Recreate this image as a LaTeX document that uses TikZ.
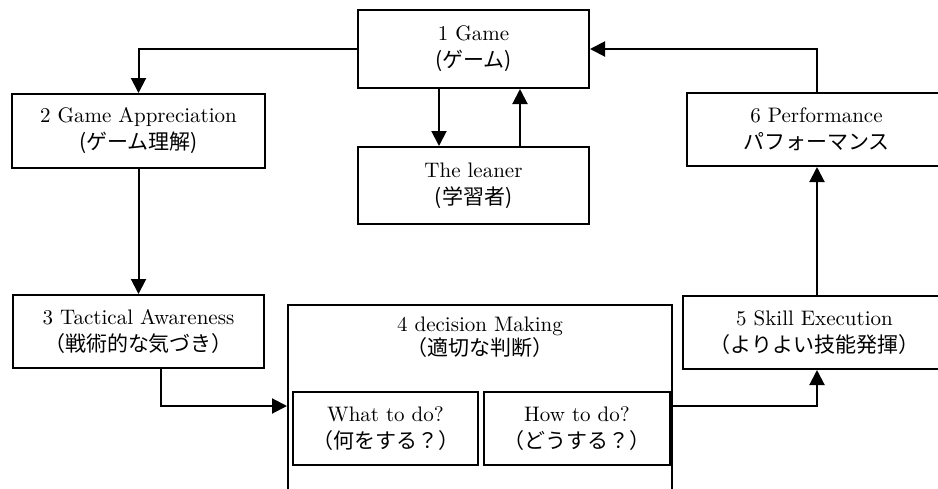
\documentclass[tikz,border=0pt]{standalone}
\usepackage{fontspec}
\newfontfamily\jp{Noto Sans CJK JP}
\usetikzlibrary{positioning,arrows.meta}

\tikzset{
  box/.style={draw, line width=1pt, align=center, inner sep=0pt,
    font=\fontsize{10.5pt}{13.5pt}\selectfont},
  flow/.style={line width=1pt, -{Triangle[length=7.5pt,width=7.5pt]}},
}

\begin{document}
\begin{tikzpicture}
  \useasboundingbox (0,0) rectangle (469pt,-244pt);
  \clip (0,0) rectangle (469pt,-244pt);
  % Define boxes
  \node[box, minimum width=115.5pt, minimum height=39pt] (game) at (236.75pt,-24.5pt) {1 Game\\{\jp (ゲーム)}};
  \node[box, minimum width=115.5pt, minimum height=38.5pt, below=28.5pt of game] (learner) {The leaner\\{\jp (学習者)}};
  \node[box, minimum width=126.5pt, minimum height=37pt] (appr) at (69.25pt,-65.5pt) {2 Game Appreciation\\{\jp (ゲーム理解)}};
  \node[box, minimum width=125.5pt, minimum height=36.5pt, below=62.5pt of appr] (tact) {3 Tactical Awareness\\{\jp （戦術的な気づき）}};
  \node[box, minimum width=192pt, minimum height=140pt, anchor=north west] (decision) at (143.5pt,-152pt) {};
  \node[align=center, inner sep=0pt, font=\fontsize{10.5pt}{10pt}\selectfont] (decisiontxt) at ([yshift=-16.75pt]decision.north) {4 decision Making\\{\jp （適切な判断）}};
  \node[box, minimum width=92.5pt, minimum height=36.5pt, anchor=north west] (what) at (146pt,-195.5pt) {What to do?\\{\jp （何をする？）}};
  \node[box, minimum width=93pt, minimum height=36.5pt, right=2pt of what] (how) {How to do?\\{\jp （どうする？）}};
  \node[box, minimum width=131.5pt, minimum height=36.5pt, anchor=north west] (skill) at (341pt,-147.5pt) {5 Skill Execution\\{\jp （よりよい技能発揮）}};
  \node[box, minimum width=129.5pt, minimum height=36.5pt, anchor=north west] (perf) at (343pt,-46pt) {6 Performance\\{\jp パフォーマンス}};
  \coordinate (dmrow) at ([yshift=-7.5pt]what.north);
  % game and learner
  \draw[flow] (game.west) -| (appr.north);
  \draw[flow] ([xshift=-17.25pt]game.south) -- ([xshift=-17.25pt]learner.north);
  \draw[flow] ([xshift=23.25pt]learner.north) -- ([xshift=23.25pt]game.south);
  % round the cycle
  \draw[flow] (appr.south) -- (appr.south |- tact.north);
  \draw[flow] ([xshift=11.25pt]tact.south) |- (decision.west |- dmrow);
  \draw[flow] (decision.east |- dmrow) -| ([xshift=1.25pt]skill.south);
  \draw[flow] ([xshift=1.25pt]skill.north) -- ([xshift=1.25pt]skill.north |- perf.south);
  \draw[flow] ([xshift=1.25pt]skill.north |- perf.north) |- (game.east);
\end{tikzpicture}
\end{document}
